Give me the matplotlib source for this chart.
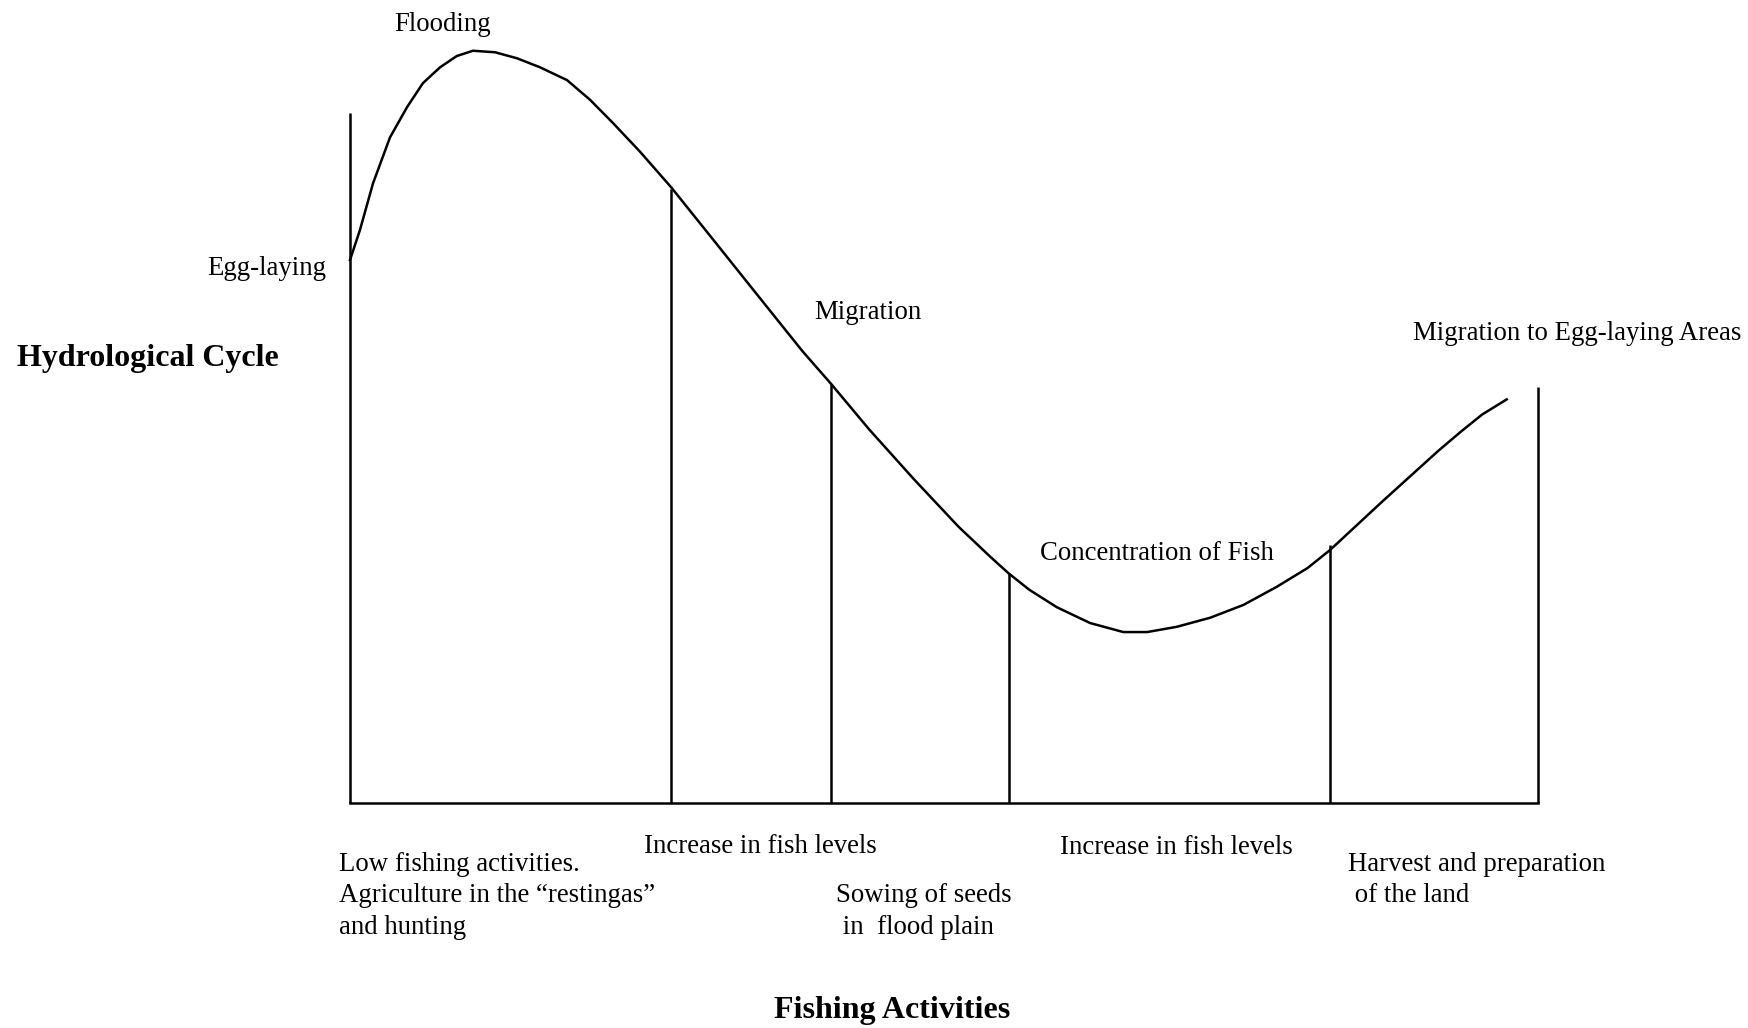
import matplotlib.pyplot as plt

# Hydrological cycle curve (x: position along cycle 0-100, y: water level 0-100)
curve_x = [0, 0.84, 1.94, 3.37, 4.80, 6.14, 7.58, 8.99, 10.35, 12.21, 14.06,
           16.00, 18.27, 20.20, 22.14, 24.41, 27.02, 30.58, 34.33, 38.09, 40.53,
           43.71, 47.47, 51.22, 53.90, 55.44, 57.20, 59.50, 62.30, 65.10, 67.10,
           69.60, 72.40, 75.20, 78.00, 80.60, 82.50, 86.87, 91.56, 93.50, 95.31, 97.37]
curve_y = [72.1, 76.1, 82.3, 88.4, 92.4, 95.6, 97.7, 99.2, 99.9, 99.7, 98.9,
           97.7, 96.0, 93.4, 90.3, 86.5, 81.8, 74.8, 67.4, 60.0, 55.6,
           49.6, 43.0, 36.7, 32.7, 30.5, 28.3, 26.0, 23.9, 22.7, 22.7,
           23.4, 24.6, 26.3, 28.7, 31.2, 33.6, 40.0, 46.7, 49.3, 51.6, 53.6]

# Vertical dividers between phases
divider_x = [0, 27.02, 40.53, 55.44, 82.5, 100]
divider_top = [91.6, 81.5, 55.6, 30.5, 34.3, 55.3]

cycle_labels = ["Flooding", "Egg-laying", "Migration",
                "Concentration of Fish", "Migration to Egg-laying Areas"]
activity_labels = ["Low fishing activities.\nAgriculture in the \u201crestingas\u201d\nand hunting",
                   "Increase in fish levels",
                   "Sowing of seeds\n in  flood plain",
                   "Increase in fish levels",
                   "Harvest and preparation\n of the land"]

plt.rcParams['font.family'] = ['Liberation Serif', 'DejaVu Serif']

fig = plt.figure(figsize=(17.48, 10.28), dpi=100)
ax = fig.add_axes([0, 0, 1, 1])
ax.set_xlim(-29.46, 117.68)
ax.set_ylim(-29.88, 106.64)
ax.axis('off')

ax.plot(curve_x, curve_y, color='black', lw=1.8, solid_joinstyle='round')
ax.vlines(divider_x, 0, divider_top, color='black', lw=1.8)
ax.plot([divider_x[0], divider_x[-1]], [0, 0], color='black', lw=1.8)

fs = 19.3
ax.text(7.79, 103.4, cycle_labels[0], fontsize=fs, ha='center', va='center')
ax.text(-1.97, 71.0, cycle_labels[1], fontsize=fs, ha='right', va='center')
ax.text(43.6, 65.2, cycle_labels[2], fontsize=fs, ha='center', va='center')
ax.text(58.07, 33.2, cycle_labels[3], fontsize=fs, ha='left', va='center')
ax.text(89.5, 62.4, cycle_labels[4], fontsize=fs, ha='left', va='center')

ax.text(-28.05, 59.0, "Hydrological Cycle", fontsize=23, fontweight='bold',
        ha='left', va='center')
ax.text(45.6, -27.6, "Fishing Activities", fontsize=23, fontweight='bold',
        ha='center', va='center')

act_pos = [(-0.94, -12.3), (24.77, -5.78), (40.9, -14.4), (59.76, -5.9), (84.05, -10.2)]
for (x, y), lab in zip(act_pos, activity_labels):
    ax.text(x, y, lab, fontsize=fs, ha='left', va='center', linespacing=1.34)

fig.savefig('out.png', dpi=100)
